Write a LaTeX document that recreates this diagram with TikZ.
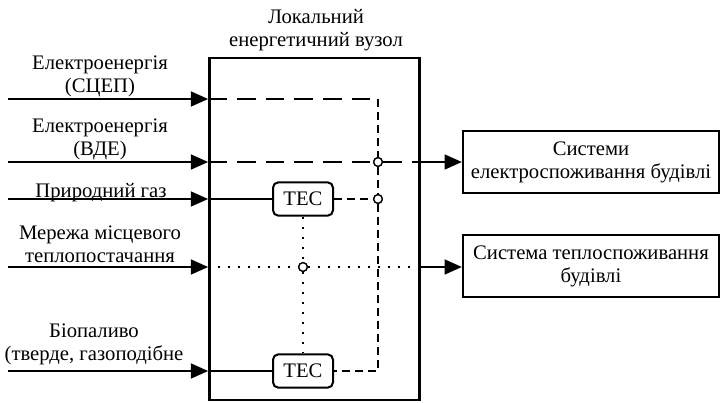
\documentclass[tikz,border=0pt]{standalone}
\usepackage{fontspec}
\setmainfont{Liberation Serif}
\newfontfamily\tnr{Liberation Serif}
\usetikzlibrary{arrows.meta, positioning, calc}

\begin{document}
\begin{tikzpicture}[x=0.75pt, y=-0.75pt, >={Triangle[length=13pt, width=11pt]},
    font=\tnr\fontsize{15.5}{17.3}\selectfont,
    potik/.style={line width=1.9pt},
    elek/.style={line width=1.6pt, dash pattern=on 14pt off 7.5pt},
    elekk/.style={line width=1.6pt, dash pattern=on 6pt off 3.75pt},
    teplo/.style={line width=1.6pt, dash pattern=on 1.5pt off 6pt},
    blok/.style={draw, line width=1.9pt, inner sep=0pt},
    spozh/.style={draw, line width=1.6pt, minimum width=192pt, minimum height=47pt, align=center, inner sep=0pt},
    tes/.style={draw, rounded corners=4pt, line width=1.5pt, minimum width=45pt, minimum height=25pt, inner sep=0pt},
    vuzol/.style={circle, draw, fill=white, line width=1pt, minimum size=6.5pt, inner sep=0pt},
    mitka/.style={align=center}]
  \useasboundingbox (0,0) rectangle (721,403);

  % local energy hub
  \node[blok, minimum width=157.5pt, minimum height=256.5pt] (hub) at (314.5,229) {};
  \node[mitka] (hubname) at (316,30) {Локальний\\енергетичний вузол};
  \node[tes] (tes1) at (303,199) {ТЕС};
  \node[tes] (tes2) at (303,371) {ТЕС};

  % consumers
  \node[spozh] (elsys) at (591,162) {Системи\\електроспоживання будівлі};
  \node[spozh] (heatsys) at (591,266) {Система теплоспоживання\\будівлі};

  % inputs
  \coordinate (in1) at (8,99);
  \coordinate (in2) at (8,162);
  \coordinate (in3) at (8,199);
  \coordinate (in4) at (8,267);
  \coordinate (in5) at (8,371);
  \node[mitka] (lab1) at (100,76) {Електроенергія\\(СЦЕП)};
  \node[mitka] (lab2) at (100,139) {Електроенергія\\(ВДЕ)};
  \node[mitka] (lab3) at (101,193) {Природний газ};
  \node[mitka] (lab4) at (100,244) {Мережа місцевого\\теплопостачання};
  \node[mitka] (lab5) at (94,344) {Біопаливо\\(тверде, газоподібне};

  % junctions
  \coordinate (top) at (378,99);
  \coordinate (bot) at (378,371);
  \node[vuzol] (j1) at (378,162) {};
  \node[vuzol] (j2) at (378,199) {};
  \node[vuzol] (j3) at (303,267) {};

  \draw[potik, ->] (in1) -- (in1 -| hub.west);
  \draw[potik, ->] (in2) -- (in2 -| hub.west);
  \draw[potik, ->] (in3) -- (in3 -| hub.west);
  \draw[potik, ->] (in4) -- (in4 -| hub.west);
  \draw[potik, ->] (in5) -- (in5 -| hub.west);

  \draw[elek] (in1 -| hub.west) -- (top);
  \draw[elekk] (top) -- (j1);
  \draw[elekk] (j1) -- (j2);
  \draw[elekk] (j2) -- (bot) -- (tes2.east);
  \draw[elekk] (tes1.east) -- (j2);
  \draw[elek] (in2 -| hub.west) -- (j1);
  \draw[elek] (j1) -- (j1 -| hub.east);
  \draw[potik] (in3 -| hub.west) -- (tes1.west);
  \draw[potik] (in5 -| hub.west) -- (tes2.west);
  \draw[teplo] (in4 -| hub.west) -- (j3) -- (in4 -| hub.east);
  \draw[teplo] (tes1.south) -- (j3) -- (tes2.north);
  \node[vuzol] at (j1) {};
  \node[vuzol] at (j2) {};
  \node[vuzol] at (j3) {};

  \draw[potik, ->] (j1 -| hub.east) -- (elsys.west |- j1);
  \draw[potik, ->] (in4 -| hub.east) -- (heatsys.west |- in4);
\end{tikzpicture}
\end{document}
